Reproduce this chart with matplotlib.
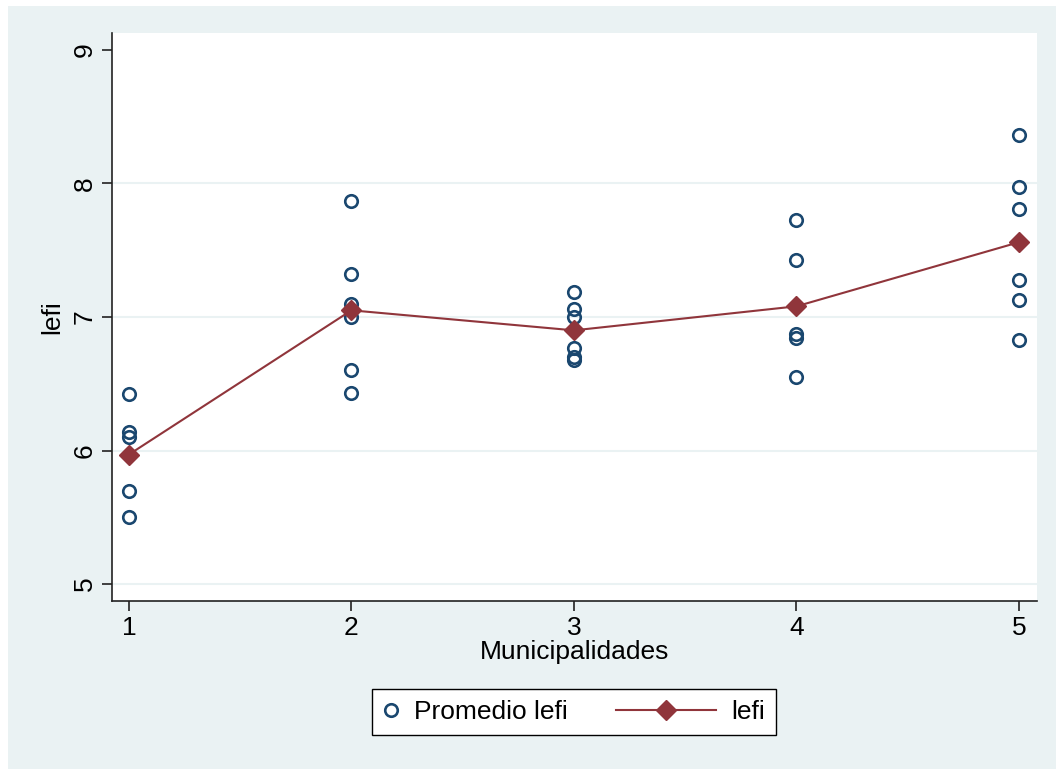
import matplotlib.pyplot as plt
import numpy as np
from matplotlib.legend_handler import HandlerLine2D
from matplotlib.lines import Line2D
from matplotlib.patches import Rectangle

plt.rcParams['font.family'] = ['Liberation Sans', 'DejaVu Sans']

# promedio lefi por municipalidad (puntos) y media (linea)
muni_x = [1] * 5 + [2] * 6 + [3] * 6 + [4] * 5 + [5] * 6
promedio_lefi = [6.42, 6.14, 6.10, 5.70, 5.50,
                 7.87, 7.32, 7.10, 7.00, 6.60, 6.43,
                 7.19, 7.06, 7.00, 6.77, 6.70, 6.68,
                 7.73, 7.43, 6.87, 6.84, 6.55,
                 8.36, 7.97, 7.81, 7.28, 7.13, 6.83]
municipalidades = [1, 2, 3, 4, 5]
lefi_media = [5.97, 7.05, 6.90, 7.08, 7.56]

BG = '#EAF2F3'
NAVY = '#1A476F'
MAROON = '#90353B'
FS = 19


class WideLineHandler(HandlerLine2D):
    # line handle drawn wider than the legend's handle box, reaching to the left
    def create_artists(self, legend, orig_handle, xdescent, ydescent,
                       width, height, fontsize, trans):
        y = (height - ydescent) / 2
        x1 = width - xdescent
        x0 = x1 - 3.8 * fontsize
        line = Line2D([x0, x1], [y, y], color=orig_handle.get_color(),
                      lw=orig_handle.get_linewidth())
        mark = Line2D([(x0 + x1) / 2], [y], ls='none', marker='D',
                      ms=orig_handle.get_markersize(),
                      color=orig_handle.get_markerfacecolor())
        line.set_transform(trans)
        mark.set_transform(trans)
        return [line, mark]


fig = plt.figure(figsize=(10.56, 7.69), dpi=100)
fig.patch.set_facecolor('white')
fig.patches.append(Rectangle((8 / 1056, 0), 1 - 8 / 1056, 1 - 6 / 769,
                             transform=fig.transFigure, facecolor=BG,
                             edgecolor='none', zorder=-10))

ax = fig.add_axes([112 / 1056, 1 - 601 / 769, 925 / 1056, 568 / 769])
ax.set_facecolor('white')

for v in [5, 6, 7, 8]:
    ax.axhline(v, color=BG, lw=1.5, zorder=0)

sc, = ax.plot(muni_x, promedio_lefi, ls='none', marker='o', ms=9,
              mfc='none', mec=NAVY, mew=1.9, label='Promedio lefi', zorder=3)
ln, = ax.plot(municipalidades, lefi_media, color=MAROON, lw=1.5, marker='D',
              ms=10.5, mfc=MAROON, mec=MAROON, label='lefi', zorder=4)

ax.set_xlim(0.924, 5.081)
ax.set_ylim(4.873, 9.127)
ax.set_xticks(municipalidades)
ax.set_yticks([5, 6, 7, 8, 9])

for s in ['top', 'right']:
    ax.spines[s].set_visible(False)
for s in ['left', 'bottom']:
    ax.spines[s].set_color('#222222')
    ax.spines[s].set_linewidth(1.2)

ax.tick_params(axis='both', direction='out', length=7, width=1.2,
               color='#222222', labelsize=FS)
ax.tick_params(axis='y', labelrotation=90, pad=4)
ax.tick_params(axis='x', pad=4)
for t in ax.get_yticklabels():
    t.set_va('center')

ax.set_xlabel('Municipalidades', fontsize=FS, labelpad=0)
ax.set_ylabel('lefi', fontsize=FS, labelpad=6)

leg = fig.legend(handles=[sc, ln], loc='center',
                 bbox_to_anchor=(574 / 1056, 1 - 712 / 769), ncol=2,
                 fontsize=FS, handlelength=0.6, handletextpad=0.6,
                 columnspacing=5.0, borderpad=0.4, fancybox=False,
                 framealpha=1, edgecolor='black',
                 handler_map={ln: WideLineHandler()})
leg.get_frame().set_linewidth(1.0)

plt.savefig('out.png', dpi=100)
